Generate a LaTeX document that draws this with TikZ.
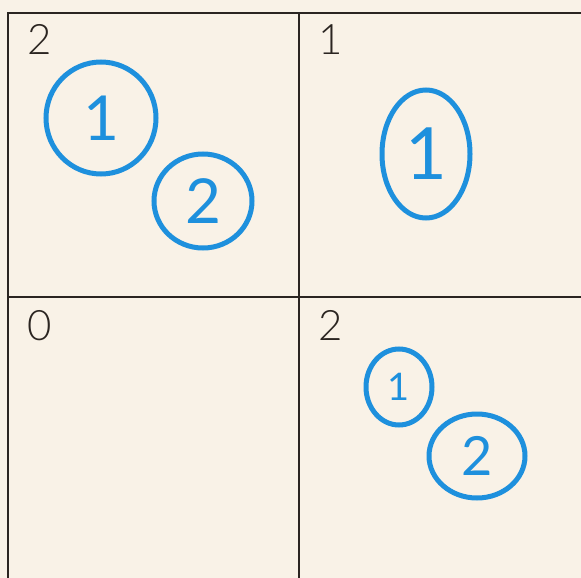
\documentclass[tikz,border=0pt]{standalone}
\usepackage{fontspec}
\setmainfont{Lato}
\newfontfamily\lightfont{Lato Light}
\usetikzlibrary{shapes.geometric}
\definecolor{paper}{HTML}{F9F2E7}
\definecolor{ink}{HTML}{2B2521}
\definecolor{crayon}{HTML}{1E90DD}

\begin{document}
\begin{tikzpicture}[x=1pt,y=-1pt,
  tally/.style={anchor=base west,inner sep=0pt,ink,font=\lightfont\fontsize{42}{42}\selectfont},
  ring/.style={ellipse,draw=crayon,line width=5pt,inner sep=0pt,crayon,
               font=\fontsize{62}{62}\selectfont}]
\fill[paper] (0,0) rectangle (581,578);
\useasboundingbox (0,0) rectangle (581,578);
% grid
\draw[ink,line width=1.5pt] (8,578) -- (8,13) -- (581,13);
\draw[ink,line width=1.5pt] (299,13) -- (299,578);
\draw[ink,line width=1.5pt] (8,297) -- (581,297);
% counts per cell
\node[tally] (n1) at (27,55) {2};
\node[tally] (n2) at (318,55) {1};
\node[tally] (n3) at (27,340) {0};
\node[tally] (n4) at (318,340) {2};
% rings
\node[ring,minimum width=110pt,minimum height=112pt] (a1) at (101,118) {1};
\node[ring,minimum width=98pt,minimum height=94pt] (a2) at (203,201) {2};
\node[ring,minimum width=88pt,minimum height=128pt,font=\fontsize{72}{72}\selectfont] (b1) at (426,154) {1};
\node[ring,minimum width=66pt,minimum height=76pt,font=\fontsize{38}{38}\selectfont] (d1) at (399,387) {1};
\node[ring,minimum width=96pt,minimum height=84pt,font=\fontsize{54}{54}\selectfont] (d2) at (477,456) {2};
\end{tikzpicture}
\end{document}
